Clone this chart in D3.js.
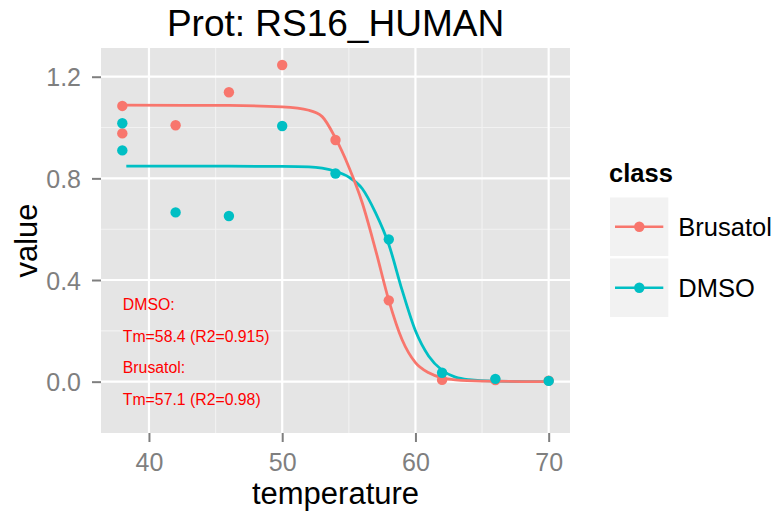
<!DOCTYPE html>
<html>
<head>
<meta charset="utf-8">
<script src="https://cdn.jsdelivr.net/npm/d3@7"></script>
<style>
  html, body { margin: 0; padding: 0; background: #fff; }
  svg { display: block; }
  text { font-family: "Liberation Sans", Arial, Helvetica, sans-serif; }
</style>
</head>
<body>
<svg id="chart" width="779" height="511"></svg>
<script>
// ---------- data ----------
const classes = ["Brusatol", "DMSO"];
const classColors = ["#F8766D", "#00BFC4"];

const temperatures = [38, 38, 42, 46, 50, 54, 58, 62, 66, 70];
const brusatolValues = [1.085, 0.977, 1.009, 1.139, 1.246, 0.951, 0.320, 0.007, 0.006, 0.004];
const dmsoValues = [1.017, 0.910, 0.666, 0.652, 1.006, 0.819, 0.560, 0.035, 0.011, 0.003];

// fitted melting curves
const brusatolFitT = [38, 46, 50, 52, 53, 54, 55, 56, 57, 58, 59, 60, 61, 62, 63, 65, 70];
const brusatolFitV = [1.088, 1.087, 1.081, 1.068, 1.043, 0.958, 0.845, 0.705, 0.520, 0.320, 0.165, 0.075, 0.035, 0.015, 0.007, 0.002, 0.000];
const dmsoFitT = [38.3, 46, 50, 52, 53, 54, 55, 56, 57, 58, 59, 60, 61, 62, 63, 64, 66, 70];
const dmsoFitV = [0.848, 0.848, 0.847, 0.845, 0.840, 0.828, 0.805, 0.760, 0.665, 0.540, 0.360, 0.200, 0.100, 0.045, 0.018, 0.008, 0.002, 0.000];

const xTicks = [40, 50, 60, 70];
const xMinorTicks = [45, 55, 65];
const yTicks = [0.0, 0.4, 0.8, 1.2];
const yTickLabels = ["0.0", "0.4", "0.8", "1.2"];
const yMinorTicks = [0.2, 0.6, 1.0];

const annotationLines = ["DMSO:", "Tm=58.4 (R2=0.915)", "Brusatol:", "Tm=57.1 (R2=0.98)"];

const titleText = "Prot: RS16_HUMAN";
const xTitle = "temperature";
const yTitle = "value";
const legendTitle = "class";

// ---------- layout ----------
const svg = d3.select("#chart");
const panel = { left: 101, right: 570, top: 48, bottom: 433 };

const x = d3.scaleLinear().domain([36.4, 71.6]).range([panel.left, panel.right]);
const y = d3.scaleLinear().domain([-0.202, 1.313]).range([panel.bottom, panel.top]);

svg.append("rect").attr("width", 779).attr("height", 511).attr("fill", "#ffffff");

// panel background
svg.append("rect")
  .attr("x", panel.left).attr("y", panel.top)
  .attr("width", panel.right - panel.left).attr("height", panel.bottom - panel.top)
  .attr("fill", "#E5E5E5");

const grid = svg.append("g");
// minor grid
grid.selectAll("line.xminor").data(xMinorTicks).enter().append("line")
  .attr("x1", d => x(d)).attr("x2", d => x(d))
  .attr("y1", panel.top).attr("y2", panel.bottom)
  .attr("stroke", "#F2F2F2").attr("stroke-width", 1.1);
grid.selectAll("line.yminor").data(yMinorTicks).enter().append("line")
  .attr("y1", d => y(d)).attr("y2", d => y(d))
  .attr("x1", panel.left).attr("x2", panel.right)
  .attr("stroke", "#F2F2F2").attr("stroke-width", 1.1);
// major grid
grid.selectAll("line.xmajor").data(xTicks).enter().append("line")
  .attr("x1", d => x(d)).attr("x2", d => x(d))
  .attr("y1", panel.top).attr("y2", panel.bottom)
  .attr("stroke", "#FFFFFF").attr("stroke-width", 2.2);
grid.selectAll("line.ymajor").data(yTicks).enter().append("line")
  .attr("y1", d => y(d)).attr("y2", d => y(d))
  .attr("x1", panel.left).attr("x2", panel.right)
  .attr("stroke", "#FFFFFF").attr("stroke-width", 2.2);

// ---------- axes ----------
const xAxis = d3.axisBottom(x).tickValues(xTicks).tickSize(9).tickPadding(11).tickFormat(d3.format("d"));
const gx = svg.append("g").attr("transform", `translate(0,${panel.bottom})`).call(xAxis);
gx.select(".domain").remove();
gx.selectAll(".tick line").attr("stroke", "#7F7F7F").attr("stroke-width", 2);
gx.selectAll(".tick text").attr("fill", "#7F7F7F").attr("font-size", 25)
  .attr("font-family", "Liberation Sans, Arial, sans-serif");

const yAxis = d3.axisLeft(y).tickValues(yTicks).tickSize(9).tickPadding(11)
  .tickFormat((d, i) => yTickLabels[i]);
const gy = svg.append("g").attr("transform", `translate(${panel.left},0)`).call(yAxis);
gy.select(".domain").remove();
gy.selectAll(".tick line").attr("stroke", "#7F7F7F").attr("stroke-width", 2);
gy.selectAll(".tick text").attr("fill", "#7F7F7F").attr("font-size", 25).attr("dy", "0.36em")
  .attr("font-family", "Liberation Sans, Arial, sans-serif");

// ---------- curves ----------
const line = d3.line().x(d => x(d[0])).y(d => y(d[1])).curve(d3.curveMonotoneX);
const fits = [
  { cls: 1, pts: d3.zip(dmsoFitT, dmsoFitV) },
  { cls: 0, pts: d3.zip(brusatolFitT, brusatolFitV) }
];
svg.append("g").selectAll("path").data(fits).enter().append("path")
  .attr("d", d => line(d.pts))
  .attr("fill", "none")
  .attr("stroke", d => classColors[d.cls])
  .attr("stroke-width", 2.8);

// ---------- points ----------
const pointSets = [
  { cls: 0, vals: brusatolValues },
  { cls: 1, vals: dmsoValues }
];
pointSets.forEach(s => {
  svg.append("g").selectAll("circle").data(d3.zip(temperatures, s.vals)).enter().append("circle")
    .attr("cx", d => x(d[0])).attr("cy", d => y(d[1])).attr("r", 5.2)
    .attr("fill", classColors[s.cls]);
});

// ---------- annotation ----------
const annoY0 = y(0.282);
svg.append("g").selectAll("text").data(annotationLines).enter().append("text")
  .attr("x", x(38) + 0.5)
  .attr("y", (d, i) => annoY0 + i * 31.7)
  .attr("fill", "#FF0000")
  .attr("font-size", 15.8)
  .text(d => d);

// ---------- titles ----------
svg.append("text").attr("x", (panel.left + panel.right) / 2).attr("y", 36)
  .attr("text-anchor", "middle").attr("font-size", 37).attr("fill", "#000").text(titleText);
svg.append("text").attr("x", (panel.left + panel.right) / 2).attr("y", 504)
  .attr("text-anchor", "middle").attr("font-size", 31).attr("fill", "#000").text(xTitle);
svg.append("text")
  .attr("transform", `translate(37,${(panel.top + panel.bottom) / 2}) rotate(-90)`)
  .attr("text-anchor", "middle").attr("font-size", 31).attr("fill", "#000").text(yTitle);

// ---------- legend ----------
const lg = svg.append("g");
lg.append("text").attr("x", 609).attr("y", 181.7).attr("font-size", 25.5)
  .attr("font-weight", "bold").attr("fill", "#000").text(legendTitle);
const keyTop = 197.5, keySize = 58.5, keyGap = 2.5;
classes.forEach((c, i) => {
  const ky = keyTop + i * (keySize + keyGap);
  lg.append("rect").attr("x", 610).attr("y", ky).attr("width", 58.3).attr("height", keySize)
    .attr("fill", "#F2F2F2");
  const cy = ky + keySize / 2;
  lg.append("line").attr("x1", 615).attr("x2", 663.3).attr("y1", cy).attr("y2", cy)
    .attr("stroke", classColors[i]).attr("stroke-width", 2.4);
  lg.append("circle").attr("cx", 639.3).attr("cy", cy).attr("r", 5.2).attr("fill", classColors[i]);
  lg.append("text").attr("x", 678.3).attr("y", cy + 8.8).attr("font-size", 25.5)
    .attr("fill", "#000").text(c);
});
</script>
</body>
</html>
